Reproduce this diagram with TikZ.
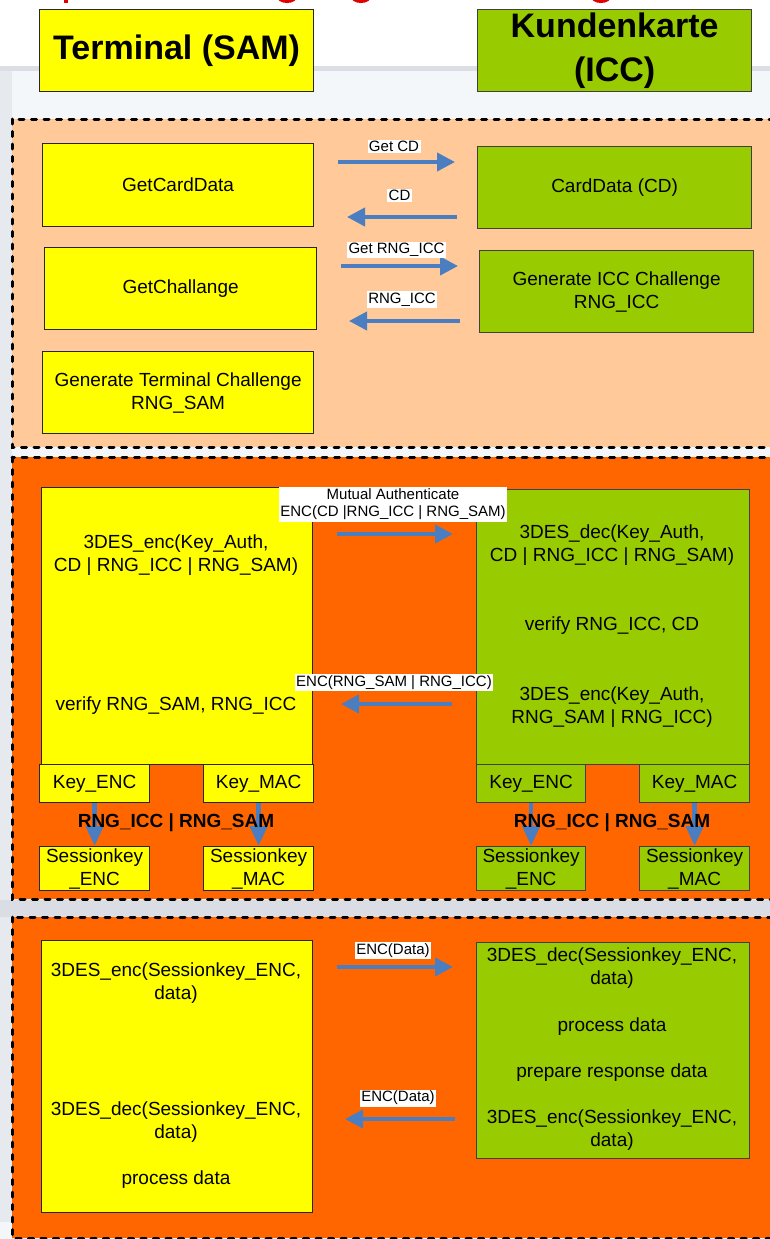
\documentclass[tikz,border=0pt]{standalone}
\usepackage{fontspec}
\setmainfont{Liberation Sans}
\usetikzlibrary{arrows.meta}
\definecolor{peach}{HTML}{FFC999}
\definecolor{orng}{HTML}{FF6600}
\definecolor{ygel}{HTML}{FFFF00}
\definecolor{grn}{HTML}{99CC00}
\definecolor{blu}{HTML}{4A7EC0}
\definecolor{bgl}{HTML}{F4F7FA}
\definecolor{gline}{HTML}{DCDEE6}
\definecolor{lstrip}{HTML}{E6E9EE}
\definecolor{gapgray}{HTML}{DADDE3}
\definecolor{ttl}{HTML}{E00000}
\tikzset{
 box/.style={draw=black!85, line width=1.2pt, inner sep=0pt, anchor=north west, font=\fontsize{19}{23}\selectfont, align=center},
 ybox/.style={box, fill=ygel},
 gbox/.style={box, fill=grn, draw=black!75},
 txt/.style={font=\fontsize{19}{23}\selectfont, align=center, inner sep=0pt},
 btxt/.style={font=\fontsize{19}{23}\bfseries\selectfont, align=center, inner sep=0pt},
 htxt/.style={font=\fontsize{34}{44}\bfseries\selectfont},
 lbl/.style={fill=white, font=\fontsize{15}{17}\selectfont, inner sep=1.5pt, align=center},
 sect/.style={draw=black, line width=3pt, dash pattern=on 5pt off 7.5pt, line cap=round},
 flow/.style={draw=blu, line width=4pt, -{Triangle[length=18pt,width=18pt]}},
 dflow/.style={draw=blu, line width=4.5pt, -{Triangle[length=20pt,width=17pt]}},
}
\newcommand\bx[7]{\node[#2, minimum width=#5pt, minimum height=#6pt] (#1) at (#3,#4) {#7};}
\begin{document}
\begin{tikzpicture}[x=1pt,y=-1pt]
\useasboundingbox (0,0) rectangle (770,1239);
\clip (0,0) rectangle (770,1239);
% background
\fill[white] (0,0) rectangle (770,1239);
\fill[bgl] (0,70) rectangle (770,1239);
\fill[gline] (0,66) rectangle (770,71);
\fill[lstrip] (0,71) rectangle (12,1222);
\fill[gapgray] (0,900) rectangle (770,917);
% clipped title remnants
\draw[ttl, line width=4pt] (66,-8) -- (66,3);
\draw[ttl, line width=4pt] (287,-5) ellipse [x radius=9, y radius=6];
\draw[ttl, line width=4pt] (361,-5) ellipse [x radius=9, y radius=6];
\draw[ttl, line width=4pt] (601,-5) ellipse [x radius=9, y radius=6];
% header boxes
\bx{term}{ybox, htxt}{39}{9}{274}{82}{Terminal (SAM)}
\node[gbox, minimum width=274pt, minimum height=82pt, align=center, font=\fontsize{34}{44}\bfseries\selectfont] (kk) at (477,9) {Kundenkarte\\(ICC)};
% sections
\draw[sect, fill=peach] (12,119) rectangle (790,447);
\draw[sect, fill=orng] (12,457) rectangle (790,899);
\draw[sect, fill=orng] (12,917) rectangle (790,1238);
% section 1
\bx{gcd}{ybox}{42}{143}{271}{83}{GetCardData}
\bx{gch}{ybox}{44}{247}{272}{82}{GetChallange}
\bx{gtc}{ybox}{42}{351}{271}{82}{Generate Terminal Challenge\\RNG\_SAM}
\bx{cd}{gbox}{477}{146}{274}{82}{CardData (CD)}
\bx{gic}{gbox}{479}{250}{274}{82}{Generate ICC Challenge\\RNG\_ICC}
\coordinate (a1s) at (338,162); \coordinate (a1e) at (455,162);
\coordinate (a2s) at (457,217); \coordinate (a2e) at (347,217);
\coordinate (a3s) at (341,266); \coordinate (a3e) at (458,266);
\coordinate (a4s) at (460,321); \coordinate (a4e) at (349,321);
\draw[flow] (a1s) -- (a1e);
\draw[flow] (a2s) -- (a2e);
\draw[flow] (a3s) -- (a3e);
\draw[flow] (a4s) -- (a4e);
\node[lbl] (l1) at (394,146.5) {Get CD};
\node[lbl] (l2) at (399.5,195.5) {CD};
\node[lbl] (l3) at (396.5,250) {Get RNG\_ICC};
\node[lbl] (l4) at (402,299.5) {RNG\_ICC};
% section 2
\bx{sbig}{ybox}{41}{487}{271}{277}{}
\bx{ibig}{gbox}{476}{489}{273}{275}{}
\bx{skenc}{ybox}{39}{764}{110}{38}{Key\_ENC}
\bx{skmac}{ybox}{203}{764}{110}{38}{Key\_MAC}
\bx{ikenc}{gbox}{476}{764}{109}{38}{Key\_ENC}
\bx{ikmac}{gbox}{639}{764}{110}{38}{Key\_MAC}
\bx{ssenc}{ybox}{39}{846}{110}{44}{Sessionkey\\\_ENC}
\bx{ssmac}{ybox}{203}{846}{110}{44}{Sessionkey\\\_MAC}
\bx{isenc}{gbox}{476}{846}{109}{44}{Sessionkey\\\_ENC}
\bx{ismac}{gbox}{639}{846}{110}{44}{Sessionkey\\\_MAC}
\draw[dflow] (skenc.south) -- (ssenc.north);
\draw[dflow] (skmac.south) -- (ssmac.north);
\draw[dflow] (ikenc.south) -- (isenc.north);
\draw[dflow] (ikmac.south) -- (ismac.north);
\node[btxt] (sx) at (176,823) {RNG\_ICC | RNG\_SAM};
\node[btxt] (ix) at (612,823) {RNG\_ICC | RNG\_SAM};
\node[txt] (s21) at (176,555.5) {3DES\_enc(Key\_Auth,\\CD | RNG\_ICC | RNG\_SAM)};
\node[txt] (s22) at (176,706) {verify RNG\_SAM, RNG\_ICC};
\node[txt] (i21) at (612,545.5) {3DES\_dec(Key\_Auth,\\CD | RNG\_ICC | RNG\_SAM)};
\node[txt] (i22) at (612,626) {verify RNG\_ICC, CD};
\node[txt] (i23) at (612,707) {3DES\_enc(Key\_Auth,\\RNG\_SAM | RNG\_ICC)};
\coordinate (b1s) at (337,534); \coordinate (b1e) at (453,534);
\coordinate (b2s) at (452,704); \coordinate (b2e) at (341,704);
\draw[flow] (b1s) -- (b1e);
\draw[flow] (b2s) -- (b2e);
\node[lbl] (lm) at (393,504.5) {Mutual Authenticate\\ENC(CD |RNG\_ICC | RNG\_SAM)};
\node[lbl] (lr) at (394,682.5) {ENC(RNG\_SAM | RNG\_ICC)};
% section 3
\bx{s3}{ybox}{41}{940}{271}{272}{}
\bx{i3}{gbox}{476}{942}{273}{216}{}
\node[txt] (s31) at (176,983) {3DES\_enc(Sessionkey\_ENC,\\data)};
\node[txt] (s32) at (176,1122.5) {3DES\_dec(Sessionkey\_ENC,\\data)};
\node[txt] (s33) at (176,1180) {process data};
\node[txt] (i31) at (612,968) {3DES\_dec(Sessionkey\_ENC,\\data)};
\node[txt] (i32) at (612,1027) {process data};
\node[txt] (i33) at (612,1073) {prepare response data};
\node[txt] (i34) at (612,1130.5) {3DES\_enc(Sessionkey\_ENC,\\data)};
\coordinate (c1s) at (337,967); \coordinate (c1e) at (453,967);
\coordinate (c2s) at (455,1119); \coordinate (c2e) at (345,1119);
\draw[flow] (c1s) -- (c1e);
\draw[flow] (c2s) -- (c2e);
\node[lbl] (ld1) at (393,950.5) {ENC(Data)};
\node[lbl] (ld2) at (398,1098) {ENC(Data)};
\end{tikzpicture}
\end{document}
